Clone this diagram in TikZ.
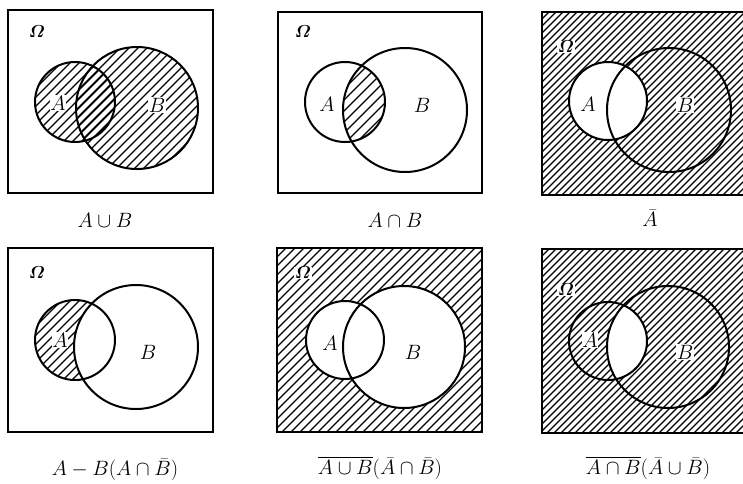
\documentclass[tikz,border=0pt]{standalone}
\usepackage{amsmath,amssymb,bm}
\begin{document}
\begin{tikzpicture}[x=1pt,y=-1pt,
  boxline/.style={line width=2.3pt},
  circline/.style={line width=2pt},
  hatchline/.style={line width=1.1pt},
  lbl/.style={font=\fontsize{20}{20}\selectfont, inner sep=0.5pt},
  hlbl/.style={lbl, fill=white},
  omg/.style={font=\fontsize{17}{17}\selectfont, inner sep=0.5pt},
  homg/.style={omg, fill=white},
  captxt/.style={font=\fontsize{21}{21}\selectfont}]
\newcommand{\myhatch}[5]{%
  \pgfmathsetmacro{\hh}{#4-#2}%
  \pgfmathsetmacro{\ks}{#1-\hh}%
  \pgfmathsetmacro{\kn}{\ks+#5}%
  \foreach \k in {\ks,\kn,...,#3} \draw[hatchline] (\k,#4) -- ++(\hh,-\hh);%
}
\useasboundingbox (0,0) rectangle (743,483);
\clip (0,0) rectangle (743,483);
\fill[white] (0,0) rectangle (743,483);

% ---------- Panel 1: A union B ----------
\begin{scope}
  \clip (75,102) circle (40);
  \myhatch{35}{62}{115}{142}{9}
\end{scope}
\begin{scope}
  \clip (137,108) circle (61);
  \myhatch{76}{47}{198}{169}{9}
\end{scope}
\draw[boxline] (8,10) rectangle (213,193);
\draw[circline] (75,102) circle (40);
\draw[circline] (137,108) circle (61);
\node[omg] (o1) at (37,32) {$\bm{\varOmega}$};
\node[hlbl] (a1) at (58,103) {$A$};
\node[hlbl] (b1) at (157,105) {$B$};
\node[captxt] (c1) at (105,220) {$A\cup B$};

% ---------- Panel 2: A cap B ----------
\begin{scope}
  \clip (345,102) circle (40);
  \clip (405,110) circle (62);
  \myhatch{305}{62}{385}{142}{11}
\end{scope}
\draw[boxline] (278,12) rectangle (482,193);
\draw[circline] (345,102) circle (40);
\draw[circline] (405,110) circle (62);
\node[omg] (o2) at (303,32) {$\bm{\varOmega}$};
\node[lbl] (a2) at (327,104) {$A$};
\node[lbl] (b2) at (422,105) {$B$};
\node[captxt] (c2) at (395,220) {$A\cap B$};

% ---------- Panel 3: complement of A ----------
\begin{scope}
  \clip (542,12) rectangle (750,195);
  \myhatch{542}{12}{750}{195}{7}
\end{scope}
\fill[white] (608,101) circle (39);
\draw[boxline] (542,12) rectangle (750,195);
\draw[circline] (608,101) circle (39);
\draw[circline] (669,110) circle (62);
\node[homg] (o3) at (566,47) {$\bm{\varOmega}$};
\node[lbl] (a3) at (588,104) {$A$};
\node[hlbl] (b3) at (685,105) {$B$};
\node[captxt] (c3) at (650,218) {$\bar{A}$};

% ---------- Panel 4: A - B ----------
\begin{scope}
  \clip (75,340) circle (40);
  \myhatch{35}{300}{115}{380}{9}
\end{scope}
\begin{scope}
  \clip (75,340) circle (40);
  \fill[white] (136,347) circle (62);
\end{scope}
\draw[boxline] (8,248) rectangle (213,432);
\draw[circline] (75,340) circle (40);
\draw[circline] (136,347) circle (62);
\node[omg] (o4) at (37,273) {$\bm{\varOmega}$};
\node[hlbl] (a4) at (60,340) {$A$};
\node[lbl] (b4) at (148,352) {$B$};
\node[captxt] (c4) at (115,470) {$A-B(A\cap\bar{B})$};

% ---------- Panel 5: complement of A union B ----------
\begin{scope}
  \clip (277,248) rectangle (482,432);
  \myhatch{277}{248}{482}{432}{9}
\end{scope}
\fill[white] (345,340) circle (39);
\fill[white] (404,347) circle (61);
\draw[boxline] (277,248) rectangle (482,432);
\draw[circline] (345,340) circle (39);
\draw[circline] (404,347) circle (61);
\node[homg] (o5) at (303,273) {$\bm{\varOmega}$};
\node[lbl] (a5) at (330,343) {$A$};
\node[lbl] (b5) at (413,352) {$B$};
\node[captxt] (c5) at (380,468) {$\overline{A\cup B}(\bar{A}\cap\bar{B})$};

% ---------- Panel 6: complement of A cap B ----------
\begin{scope}
  \clip (542,249) rectangle (750,433);
  \myhatch{542}{249}{750}{433}{7}
\end{scope}
\begin{scope}
  \clip (608,341) circle (39);
  \fill[white] (668,347) circle (61);
\end{scope}
\draw[boxline] (542,249) rectangle (750,433);
\draw[circline] (608,341) circle (39);
\draw[circline] (668,347) circle (61);
\node[homg] (o6) at (566,290) {$\bm{\varOmega}$};
\node[hlbl] (a6) at (590,340) {$A$};
\node[hlbl] (b6) at (685,352) {$B$};
\node[captxt] (c6) at (648,468) {$\overline{A\cap B}(\bar{A}\cup\bar{B})$};
\end{tikzpicture}
\end{document}
